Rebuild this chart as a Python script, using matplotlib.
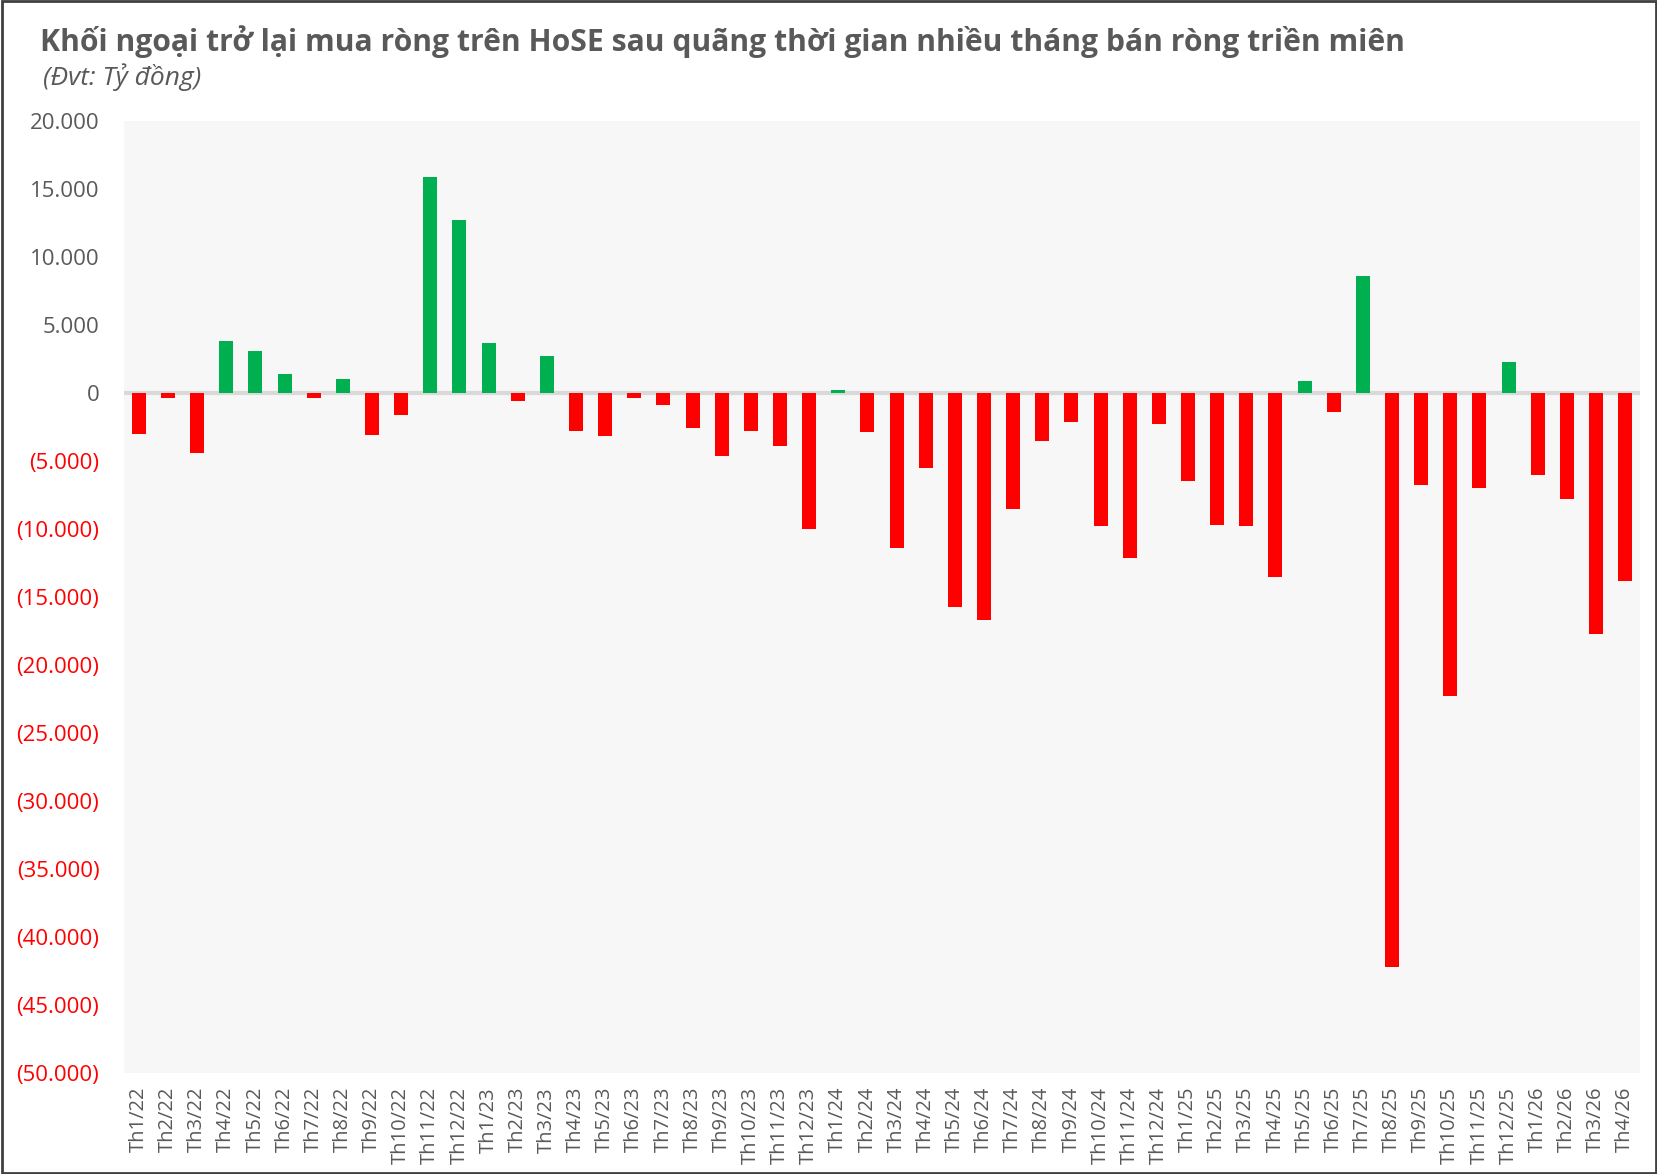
import matplotlib.pyplot as plt
from matplotlib.ticker import FuncFormatter, MultipleLocator
from matplotlib.patches import Rectangle

# net foreign buying on HoSE, billion VND per month
months = ['Th1/22', 'Th2/22', 'Th3/22', 'Th4/22', 'Th5/22', 'Th6/22', 'Th7/22', 'Th8/22',
          'Th9/22', 'Th10/22', 'Th11/22', 'Th12/22',
          'Th1/23', 'Th2/23', 'Th3/23', 'Th4/23', 'Th5/23', 'Th6/23', 'Th7/23', 'Th8/23',
          'Th9/23', 'Th10/23', 'Th11/23', 'Th12/23',
          'Th1/24', 'Th2/24', 'Th3/24', 'Th4/24', 'Th5/24', 'Th6/24', 'Th7/24', 'Th8/24',
          'Th9/24', 'Th10/24', 'Th11/24', 'Th12/24',
          'Th1/25', 'Th2/25', 'Th3/25', 'Th4/25', 'Th5/25', 'Th6/25', 'Th7/25', 'Th8/25',
          'Th9/25', 'Th10/25', 'Th11/25', 'Th12/25',
          'Th1/26', 'Th2/26', 'Th3/26', 'Th4/26']
net_buy = [-3000, -400, -4400, 3800, 3100, 1400, -400, 1000, -3100, -1600, 15900, 12700,
           3700, -600, 2700, -2800, -3200, -400, -900, -2600, -4600, -2800, -3900, -10000,
           200, -2900, -11400, -5500, -15700, -16700, -8500, -3500, -2100, -9800, -12100, -2300,
           -6500, -9700, -9800, -13500, 850, -1400, 8600, -42200, -6800, -22300, -7000, 2300,
           -6000, -7800, -17700, -13800]

GREEN = '#00B050'
RED = '#FF0000'
GREY = '#595959'
FONT = ['Open Sans', 'DejaVu Sans']

fig = plt.figure(figsize=(16.58, 11.74), dpi=100)
ax = fig.add_axes([0.075, 0.086, 0.914, 0.811])

x = list(range(len(months)))
colors = [GREEN if v >= 0 else RED for v in net_buy]
ax.bar(x, net_buy, width=0.48, color=colors, zorder=3)
ax.axhline(0, color='#D9D9D9', linewidth=3, zorder=2)

ax.set_facecolor('#F7F7F7')
ax.set_xlim(-0.5, len(months) - 0.5)
ax.set_ylim(-50000, 20000)
ax.yaxis.set_major_locator(MultipleLocator(5000))


def fmt(v, pos):
    s = f'{abs(v):,.0f}'.replace(',', '.')
    return f'({s})' if v < 0 else s


ax.yaxis.set_major_formatter(FuncFormatter(fmt))
for sp in ax.spines.values():
    sp.set_visible(False)
ax.tick_params(axis='both', length=0)
ax.tick_params(axis='y', pad=18)
ax.tick_params(axis='x', pad=10)
ax.set_xticks(x)
ax.set_xticklabels(months, rotation=90, fontsize=14.5, color=GREY, family=FONT)

for lab, val in zip(ax.get_yticklabels(), ax.get_yticks()):
    lab.set_family(FONT)
    lab.set_fontsize(16)
    lab.set_color(RED if val < 0 else GREY)

fig.text(0.024, 0.965, 'Khối ngoại trở lại mua ròng trên HoSE sau quãng thời gian nhiều tháng bán ròng triền miên',
         fontsize=21.7, fontweight='bold', color=GREY, family=FONT, va='center')
fig.text(0.026, 0.934, '(Đvt: Tỷ đồng)', fontsize=19, style='italic', color=GREY,
         family=FONT, va='center')

fig.patches.append(Rectangle((0.001, 0.001), 0.998, 0.998, transform=fig.transFigure,
                             fill=False, edgecolor='#404040', linewidth=2))

fig.savefig('out.png', dpi=100)
